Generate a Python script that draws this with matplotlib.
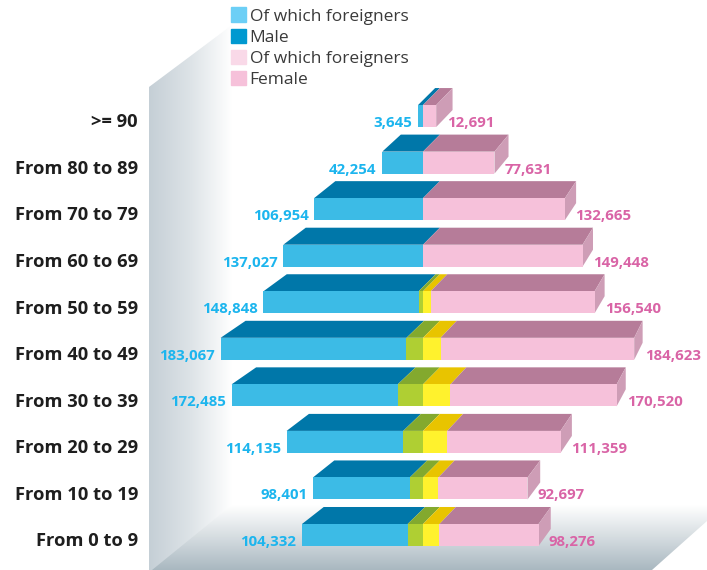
import matplotlib
matplotlib.use('Agg')
import matplotlib.pyplot as plt
import numpy as np
from matplotlib.colors import LinearSegmentedColormap
from matplotlib.patches import Patch, Polygon

plt.rcParams['font.family'] = ['Open Sans', 'DejaVu Sans']

ages = ['From 0 to 9', 'From 10 to 19', 'From 20 to 29', 'From 30 to 39', 'From 40 to 49',
        'From 50 to 59', 'From 60 to 69', 'From 70 to 79', 'From 80 to 89', '>= 90']

# printed labels
male_labels = [104332, 98401, 114135, 172485, 183067, 148848, 137027, 106954, 42254, 3645]
female_labels = [98276, 92697, 111359, 170520, 184623, 156540, 149448, 132665, 77631, 12691]

# bar lengths, thousands (they don't follow the labels exactly)
male_len = [110, 100, 124, 174, 184, 145, 127, 99, 37, 4.5]
female_len = [105, 95, 125, 176, 192, 156, 145, 129, 65, 12]
male_foreign = [14, 12, 18, 23, 15, 4, 0, 0, 0, 0]
female_foreign = [15, 14, 22, 25, 16, 7, 0, 0, 0, 0]

W, H = 707, 570
PX = 1.1      # pixels per thousand
X0 = 423      # pixel of the centre line
Y0 = 535      # pixel of the bottom row
ROW = 46.55   # pixels per row
BAR_H = 22 / ROW
DEPTH_Y = 17 / ROW


def depth_x(x):
    # perspective shift of the back edge, in thousands
    px = X0 + x * PX
    return 0.04 * (845 - px) / PX


fig = plt.figure(figsize=(W / 100, H / 100), dpi=100)

# wall and floor, in pixels
bg = fig.add_axes([0, 0, 1, 1])
bg.set_xlim(0, W)
bg.set_ylim(H, 0)
bg.axis('off')

wall_cmap = LinearSegmentedColormap.from_list('wall', ['#c5cfd6', '#dde3e7', '#ffffff'])
im = bg.imshow(np.linspace(0, 1, 256)[None, :], extent=(149, 232, H, 0), cmap=wall_cmap, aspect='auto', zorder=1)
im.set_clip_path(Polygon([(149, 87), (232, 25), (232, H), (149, H)], transform=bg.transData))

floor_cmap = LinearSegmentedColormap.from_list('floor', ['#ffffff', '#d5dce0', '#a9b8c0'])
im = bg.imshow(np.linspace(0, 1, 256)[:, None], extent=(149, W, H, 505), cmap=floor_cmap, aspect='auto', zorder=2)
im.set_clip_path(Polygon([(152, H), (232, 505), (W, 505), (W, 521), (652, H)], transform=bg.transData))
bg.set_xlim(0, W)
bg.set_ylim(H, 0)

# the chart itself
ax = fig.add_axes([0, 0, 1, 1])
ax.patch.set_alpha(0)
ax.set_xlim(-X0 / PX, (W - X0) / PX)
ax.set_ylim(-(H - Y0) / ROW, Y0 / ROW)
ax.axis('off')

y = np.arange(len(ages))
ml = np.array(male_len, dtype=float)
fl = np.array(female_len, dtype=float)
mf = np.array(male_foreign, dtype=float)
ff = np.array(female_foreign, dtype=float)

# front faces
ax.barh(y, -(ml - mf), BAR_H, left=-mf, color='#3cbbe6', zorder=3)
ax.barh(y, -mf, BAR_H, color='#afcf33', zorder=3)
ax.barh(y, ff, BAR_H, color='#fff22d', zorder=3)
ax.barh(y, fl - ff, BAR_H, left=ff, color='#f6c1da', zorder=3)


def top_face(x1, x2, row, color):
    t = row + BAR_H / 2
    ax.fill([x1, x2, x2 + depth_x(x2), x1 + depth_x(x1)], [t, t, t + DEPTH_Y, t + DEPTH_Y],
            color=color, lw=0, zorder=2)


for i in y:
    top_face(-ml[i], -mf[i], i, '#0077a9')
    if mf[i] > 0:
        top_face(-mf[i], 0, i, '#83a92e')
    if ff[i] > 0:
        top_face(0, ff[i], i, '#e8c400')
    top_face(ff[i], fl[i], i, '#b67c99')
    # right side
    b, t = i - BAR_H / 2, i + BAR_H / 2
    ax.fill([fl[i], fl[i] + depth_x(fl[i]), fl[i] + depth_x(fl[i]), fl[i]],
            [b, b + DEPTH_Y, t + DEPTH_Y, t], color='#ce9db6', lw=0, zorder=2)

    ax.annotate(f'{male_labels[i]:,}', (-ml[i], i), xytext=(-4, -5), textcoords='offset points',
                ha='right', va='center', color='#1cb5ee', fontsize=10.8, fontweight='bold')
    ax.annotate(f'{female_labels[i]:,}', (fl[i], i), xytext=(7.5, -5), textcoords='offset points',
                ha='left', va='center', color='#d964a6', fontsize=10.8, fontweight='bold')
    ax.annotate(ages[i], (-(X0 - 138) / PX, i), xytext=(0, -4.5), textcoords='offset points',
                ha='right', va='center', color='#1e1e1e', fontsize=13.2, fontweight='bold')

handles = [Patch(color='#6ccff6'), Patch(color='#0099d0'), Patch(color='#f9d9e8'), Patch(color='#f6c1da')]
names = ['Of which foreigners', 'Male', 'Of which foreigners', 'Female']
ax.legend(handles, names, loc='upper left', bbox_to_anchor=(231 / W, 1 - 7.5 / H), frameon=False,
          borderpad=0, borderaxespad=0, handlelength=0.87, handleheight=0.87, handletextpad=0.2,
          labelspacing=0.24, fontsize=12.5, labelcolor='#3a3a3a')

fig.savefig('out.png', dpi=100)
